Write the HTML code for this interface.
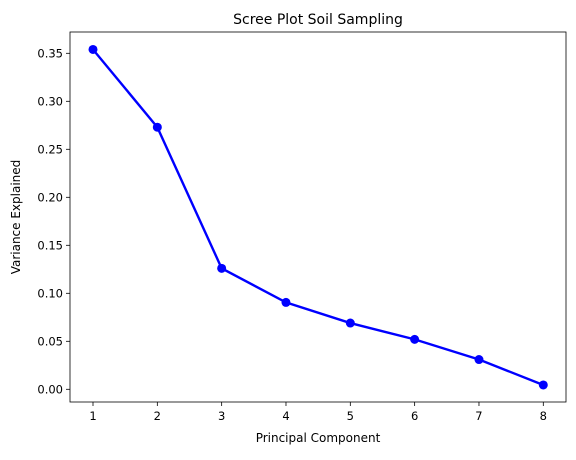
<!DOCTYPE html>
<html><head><meta charset="utf-8"><style>
body{margin:0;background:#fff;font-family:"Liberation Sans","DejaVu Sans",sans-serif;}
svg text{font-family:"DejaVu Sans","Liberation Sans",sans-serif;}
</style></head><body>
<svg id="c" width="576" height="455"></svg>
<script>
const components=[1,2,3,4,5,6,7,8];
const variance=[0.354,0.273,0.126,0.0905,0.069,0.052,0.031,0.0045];
const yTicks=[0,0.05,0.10,0.15,0.20,0.25,0.30,0.35];
const yTickLabels=["0.00","0.05","0.10","0.15","0.20","0.25","0.30","0.35"];
const L=70,R=566,T=32,B=402;
const sx=v=>93+(v-1)*(543.3-93)/7;
const sy=v=>389.3-v*960;
const svg=document.getElementById('c');
const NS='http://www.w3.org/2000/svg';
function mk(t,a,p){const e=document.createElementNS(NS,t);for(const k in a)e.setAttribute(k,a[k]);(p||svg).appendChild(e);return e;}
let g=mk('g',{});


yTicks.forEach((v,i)=>{const y=sy(v);mk('line',{x1:L-4,x2:L,y1:y,y2:y,stroke:'#000','stroke-width':0.8},g);
const t=mk('text',{x:L-7,y:y+4,'text-anchor':'end','font-size':11.5,fill:'#000'},g);t.textContent=yTickLabels[i];

});
let gx=mk('g',{});


components.forEach(v=>{const x=sx(v);mk('line',{x1:x,x2:x,y1:B,y2:B+4,stroke:'#000','stroke-width':0.8},gx);
const t=mk('text',{x:x,y:B+18,'text-anchor':'middle','font-size':11.5,fill:'#000'},gx);t.textContent=v;

});
const pl=mk('polyline',{points:components.map((c,i)=>sx(c)+','+sy(variance[i])).join(' '),fill:'none',stroke:'#0000ff','stroke-width':2.4});


components.forEach((c,i)=>{const p=mk('circle',{cx:sx(c),cy:sy(variance[i]),r:4.5,fill:'#0000ff'});

});
const fr=mk('rect',{x:L,y:T,width:R-L,height:B-T,fill:'none',stroke:'#000','stroke-width':0.8});


let t=mk('text',{x:(L+R)/2,y:24,'text-anchor':'middle','font-size':14,fill:'#000'});t.textContent='Scree Plot Soil Sampling';


t=mk('text',{x:(L+R)/2,y:442,'text-anchor':'middle','font-size':12,fill:'#000'});t.textContent='Principal Component';


t=mk('text',{x:0,y:0,'text-anchor':'middle','font-size':12,fill:'#000',transform:'translate(20,'+((T+B)/2)+') rotate(-90)'});t.textContent='Variance Explained';


</script>
</body></html>
